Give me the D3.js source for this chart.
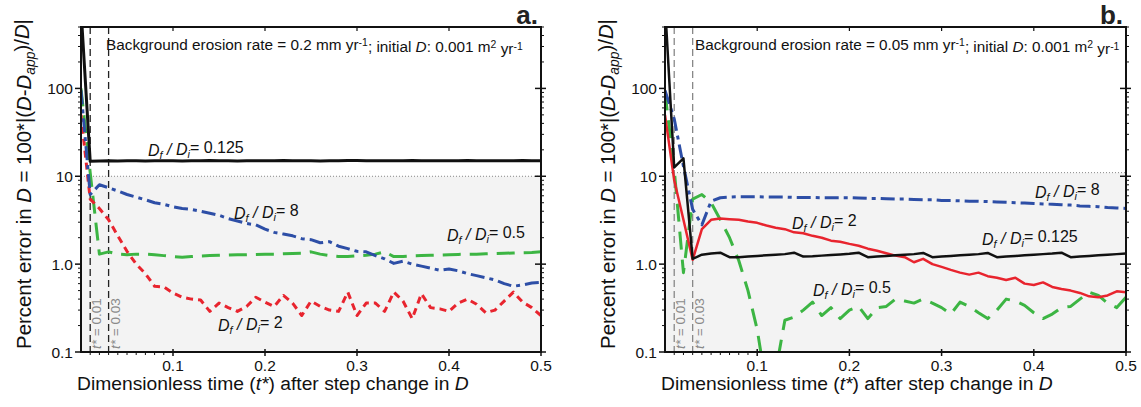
<!DOCTYPE html>
<html>
<head>
<meta charset="utf-8">
<script src="https://cdn.jsdelivr.net/npm/d3@7"></script>
<style>
  body { margin: 0; background: #fff; }
  svg { display: block; font-family: "Liberation Sans", Arial, sans-serif; }
</style>
</head>
<body>
<svg id="chart" width="1141" height="407"></svg>
<script>
// time steps (t*) shared by all series
var tStar = [0, 0.01, 0.02, 0.03, 0.04, 0.05, 0.06, 0.07, 0.08, 0.09,
  0.10, 0.11, 0.12, 0.13, 0.14, 0.15, 0.16, 0.17, 0.18, 0.19,
  0.20, 0.21, 0.22, 0.23, 0.24, 0.25, 0.26, 0.27, 0.28, 0.29,
  0.30, 0.31, 0.32, 0.33, 0.34, 0.35, 0.36, 0.37, 0.38, 0.39,
  0.40, 0.41, 0.42, 0.43, 0.44, 0.45, 0.46, 0.47, 0.48, 0.49, 0.50];

// panel a: background erosion 0.2 mm/yr
var aBlack = [800, 14.8, 14.9, 15, 14.9, 15, 15, 14.9, 15, 15,
  15, 14.9, 15, 15, 15.1, 15, 15, 14.9, 15, 15,
  15, 15, 15.1, 15, 15, 15, 14.9, 15, 15, 15.1,
  15.1, 15, 15, 15, 15, 15, 15.1, 15, 15, 15,
  15, 15, 15.1, 15, 15, 15, 15, 15, 15.1, 15, 15];
var aBlue = [95, 6.2, 8.0, 7.4, 6.8, 6.2, 5.8, 5.4, 5.0, 4.8,
  4.5, 4.3, 4.2, 4.0, 3.8, 3.6, 3.3, 3.1, 2.9, 2.8,
  2.5, 2.3, 2.2, 2.1, 1.95, 1.9, 1.75, 1.8, 1.6, 1.5,
  1.4, 1.38, 1.25, 1.15, 1.02, 1.08, 1.0, 0.95, 0.9, 0.85,
  0.88, 0.84, 0.78, 0.74, 0.7, 0.66, 0.6, 0.56, 0.58, 0.61, 0.62];
var aGreen = [100, 11, 1.3, 1.38, 1.3, 1.28, 1.3, 1.3, 1.28, 1.25,
  1.22, 1.2, 1.22, 1.24, 1.25, 1.26, 1.27, 1.28, 1.28, 1.29,
  1.3, 1.3, 1.31, 1.32, 1.33, 1.38, 1.3, 1.25, 1.22, 1.22,
  1.24, 1.26, 1.3, 1.38, 1.22, 1.22, 1.24, 1.25, 1.26, 1.27,
  1.28, 1.29, 1.3, 1.3, 1.31, 1.32, 1.33, 1.34, 1.35, 1.36, 1.38];
var aRed = [50, 5.5, 4.3, 3.2, 2.1, 1.4, 1.0, 0.78, 0.56, 0.55,
  0.47, 0.42, 0.40, 0.39, 0.29, 0.36, 0.32, 0.29, 0.33, 0.42,
  0.37, 0.33, 0.44, 0.36, 0.26, 0.38, 0.33, 0.3, 0.29, 0.48,
  0.26, 0.36, 0.36, 0.29, 0.48, 0.38, 0.24, 0.46, 0.32, 0.31,
  0.29, 0.36, 0.4, 0.35, 0.28, 0.3, 0.38, 0.48, 0.37, 0.32, 0.26];

// panel b: background erosion 0.05 mm/yr
var bBlack = [900, 12.6, 16, 1.15, 1.28, 1.32, 1.35, 1.2, 1.2, 1.22,
  1.24, 1.26, 1.28, 1.3, 1.35, 1.22, 1.23, 1.25, 1.27, 1.29,
  1.31, 1.35, 1.2, 1.22, 1.24, 1.26, 1.28, 1.3, 1.34, 1.2,
  1.22, 1.24, 1.26, 1.28, 1.3, 1.34, 1.2, 1.22, 1.24, 1.26,
  1.28, 1.3, 1.32, 1.35, 1.2, 1.22, 1.24, 1.26, 1.28, 1.3, 1.32];
var bBlue = [95, 45, 13, 4.2, 2.8, 5.2, 5.7, 5.8, 5.85, 5.85,
  5.85, 5.8, 5.8, 5.8, 5.75, 5.75, 5.75, 5.7, 5.7, 5.7,
  5.7, 5.65, 5.6, 5.6, 5.55, 5.5, 5.5, 5.45, 5.4, 5.4,
  5.3, 5.3, 5.25, 5.2, 5.2, 5.15, 5.1, 5.05, 5.0, 4.95,
  4.9, 4.85, 4.8, 4.75, 4.7, 4.6, 4.55, 4.5, 4.4, 4.35, 4.3];
var bGreen = [90, 12, 0.8, 5.5, 6.2, 5.0, 3.2, 2.0, 1.1, 0.5,
  0.18, 0.04, 0.06, 0.23, 0.25, 0.3, 0.37, 0.26, 0.32, 0.24,
  0.3, 0.33, 0.24, 0.32, 0.33, 0.4, 0.38, 0.36, 0.4, 0.36,
  0.32, 0.27, 0.37, 0.33, 0.28, 0.24, 0.3, 0.4, 0.38, 0.34,
  0.28, 0.24, 0.27, 0.32, 0.33, 0.4, 0.48, 0.44, 0.36, 0.32, 0.42];
var bRed = [50, 9, 3.2, 1.12, 2.5, 3.2, 3.3, 3.25, 3.2, 3.05,
  2.95, 2.75, 2.6, 2.5, 2.3, 2.25, 2.1, 2.0, 1.85, 1.8,
  1.7, 1.62, 1.5, 1.42, 1.33, 1.25, 1.2, 1.05, 1.15, 1.0,
  0.93, 0.86, 0.8, 0.76, 0.8, 0.73, 0.7, 0.66, 0.7, 0.6,
  0.58, 0.62, 0.55, 0.52, 0.5, 0.47, 0.43, 0.42, 0.44, 0.49, 0.48];

var yTicks = [0.1, 1, 10, 100];
var yTickLabels = ["0.1", "1.0", "10", "100"];
var xTicks = [0.1, 0.2, 0.3, 0.4, 0.5];
var markerTimes = [0.01, 0.03];
var markerLabels = ["0.01", "0.03"];

var colors = {black: "#111", blue: "#2d4ea6", green: "#3cb543", red: "#e8242e"};

var svg = d3.select("#chart");

// writes a text made of parts: {t, it, sub, sup}
function richText(txt, parts) {
    var shift = 0;
    parts.forEach(function (p) {
        var s = txt.append("tspan").text(p.t);
        var want = p.sub ? 0.27 : (p.sup ? -0.42 : 0);
        if (want != shift) { s.attr("dy", (want - shift) + "em"); shift = want; }
        if (p.it) s.style("font-style", "italic");
        if (p.sub || p.sup) s.style("font-size", "0.68em");
    });
}

// scale a text's font so its width matches the reference
function fitWidth(txt, size, target) {
    var w = txt.node().getBBox().width;
    txt.style("font-size", (size * target / w) + "px");
}

function ratioLabel(g, x, y, value) {
    var t = g.append("text").attr("x", x).attr("y", y)
        .style("font-size", "16px").attr("fill", "#111");
    richText(t, [{t: "D", it: true}, {t: "f", it: true, sub: true}, {t: " / ", it: true},
        {t: "D", it: true}, {t: "i", it: true, sub: true}, {t: "= " + value}]);
}

function drawPanel(cfg) {
    var left = cfg.left, right = cfg.right, top = 27, bottom = 352;
    var g = svg.append("g");

    var x = d3.scaleLinear().domain([0, 0.5]).range([left, right]);
    var y = d3.scaleLog().domain([0.1, 500]).range([bottom, top]);

    var clipId = "clip" + cfg.name;
    svg.append("clipPath").attr("id", clipId).append("rect")
        .attr("x", left).attr("y", top).attr("width", right - left).attr("height", bottom - top);

    // shaded area below threshold
    g.append("rect")
        .attr("x", left).attr("y", y(cfg.threshold))
        .attr("width", right - left).attr("height", bottom - y(cfg.threshold))
        .attr("fill", "#f3f3f3");
    g.append("line")
        .attr("x1", left).attr("x2", right)
        .attr("y1", y(cfg.threshold)).attr("y2", y(cfg.threshold))
        .attr("stroke", "#888").attr("stroke-width", 1).attr("stroke-dasharray", "1,2");

    // t* markers
    markerTimes.forEach(function (m, i) {
        g.append("line")
            .attr("x1", x(m)).attr("x2", x(m)).attr("y1", top).attr("y2", bottom)
            .attr("stroke", cfg.markerColor).attr("stroke-width", 1.3).attr("stroke-dasharray", "7,4");
        var tx = g.append("text")
            .attr("transform", "translate(" + (x(m) + 11) + "," + (bottom - 3) + ") rotate(-90)")
            .style("font-size", "13.5px").attr("fill", "#8a8a8a");
        richText(tx, [{t: "t*", it: true}, {t: " = " + markerLabels[i]}]);
    });

    // series
    var line = d3.line().x((d, i) => x(tStar[i])).y(d => y(d));
    var lines = g.append("g").attr("clip-path", "url(#" + clipId + ")");
    cfg.series.forEach(function (s) {
        lines.append("path")
            .datum(s.values)
            .attr("d", line)
            .attr("fill", "none")
            .attr("stroke", colors[s.color])
            .attr("stroke-width", s.width)
            .attr("stroke-dasharray", s.dash)
            .attr("stroke-linejoin", "round");
    });

    // y ticks, both sides
    var minors = [];
    [0.1, 1, 10, 100].forEach(function (dec) {
        for (var k = 2; k <= 9; k++) if (dec * k <= 500) minors.push(dec * k);
    });
    minors.forEach(function (v) {
        g.append("line").attr("x1", left - 3).attr("x2", left).attr("y1", y(v)).attr("y2", y(v))
            .attr("stroke", "#111").attr("stroke-width", 1);
        g.append("line").attr("x1", right).attr("x2", right + 3).attr("y1", y(v)).attr("y2", y(v))
            .attr("stroke", "#111").attr("stroke-width", 1);
    });
    yTicks.forEach(function (v, i) {
        g.append("line").attr("x1", left - 6).attr("x2", left).attr("y1", y(v)).attr("y2", y(v))
            .attr("stroke", "#111").attr("stroke-width", 1.5);
        g.append("line").attr("x1", right - 6).attr("x2", right + 5).attr("y1", y(v)).attr("y2", y(v))
            .attr("stroke", "#111").attr("stroke-width", 1.5);
        g.append("text").attr("x", left - 8).attr("y", y(v)).attr("dy", "0.36em")
            .attr("text-anchor", "end").style("font-size", "15.5px").attr("fill", "#111")
            .text(yTickLabels[i]);
    });

    // x ticks
    for (var k = 1; k < 10; k++) {
        g.append("line").attr("x1", x(k / 100)).attr("x2", x(k / 100)).attr("y1", bottom).attr("y2", bottom + 3)
            .attr("stroke", "#111").attr("stroke-width", 1);
    }
    xTicks.forEach(function (v) {
        g.append("line").attr("x1", x(v)).attr("x2", x(v)).attr("y1", bottom - 3).attr("y2", bottom + 4)
            .attr("stroke", "#111").attr("stroke-width", 1.5);
        g.append("line").attr("x1", x(v)).attr("x2", x(v)).attr("y1", top).attr("y2", top + 4)
            .attr("stroke", "#111").attr("stroke-width", 1.2);
        g.append("text").attr("x", x(v)).attr("y", bottom + 19)
            .attr("text-anchor", "middle").style("font-size", "15.5px").attr("fill", "#111")
            .text(String(v));
    });

    // frame
    g.append("rect").attr("x", left).attr("y", top).attr("width", right - left).attr("height", bottom - top)
        .attr("fill", "none").attr("stroke", "#111").attr("stroke-width", 2);

    // annotation
    var ann = g.append("text").attr("x", cfg.annX).attr("y", 50)
        .style("font-size", "14px").attr("fill", "#111");
    richText(ann, [{t: "Background erosion rate = " + cfg.rate + " mm yr"}, {t: "-1", sup: true},
        {t: "; initial "}, {t: "D", it: true}, {t: ": 0.001 m"}, {t: "2", sup: true},
        {t: " yr"}, {t: "-1", sup: true}]);
    fitWidth(ann, 14, cfg.annW);

    // panel letter
    g.append("text").attr("x", right - 3).attr("y", 24).attr("text-anchor", "end")
        .style("font-size", "26px").style("font-weight", "bold").attr("fill", "#222")
        .text(cfg.name + ".");

    // ratio labels
    cfg.labels.forEach(function (l) { ratioLabel(g, l.x, l.y, l.v); });

    // axis titles
    var xt = g.append("text").attr("x", left - 4).attr("y", 390)
        .style("font-size", "18px").attr("fill", "#111");
    richText(xt, [{t: "Dimensionless time ("}, {t: "t*", it: true}, {t: ") after step change in "}, {t: "D", it: true}]);
    fitWidth(xt, 18, 392);

    var yt = g.append("text")
        .attr("transform", "translate(" + (left - 50) + "," + 184 + ") rotate(-90)")
        .attr("text-anchor", "middle").style("font-size", "18px").attr("fill", "#111");
    richText(yt, [{t: "Percent error in "}, {t: "D", it: true}, {t: " = 100*|("}, {t: "D", it: true},
        {t: "-"}, {t: "D", it: true}, {t: "app", it: true, sub: true}, {t: ")/"}, {t: "D", it: true}, {t: "|"}]);
    fitWidth(yt, 18, 330);
}

drawPanel({
    name: "a", left: 81, right: 541, threshold: 10, markerColor: "#222", rate: "0.2", annX: 106, annW: 417,
    series: [
        {values: aGreen, color: "green", width: 3, dash: "18,9"},
        {values: aRed, color: "red", width: 3, dash: "7,5"},
        {values: aBlue, color: "blue", width: 3, dash: "14,5,4,5"},
        {values: aBlack, color: "black", width: 3, dash: null}
    ],
    labels: [
        {x: 148, y: 156, v: "0.125"},
        {x: 234, y: 219, v: "8"},
        {x: 447, y: 241, v: "0.5"},
        {x: 218, y: 331, v: "2"}
    ]
});

drawPanel({
    name: "b", left: 665, right: 1126, threshold: 11, markerColor: "#888", rate: "0.05", annX: 695, annW: 425,
    series: [
        {values: bGreen, color: "green", width: 3, dash: "18,10"},
        {values: bBlue, color: "blue", width: 3, dash: "14,5,4,5"},
        {values: bRed, color: "red", width: 2.5, dash: null},
        {values: bBlack, color: "black", width: 2.5, dash: null}
    ],
    labels: [
        {x: 1035, y: 198, v: "8"},
        {x: 792, y: 229, v: "2"},
        {x: 982, y: 245, v: "0.125"},
        {x: 813, y: 296, v: "0.5"}
    ]
});
</script>
</body>
</html>
